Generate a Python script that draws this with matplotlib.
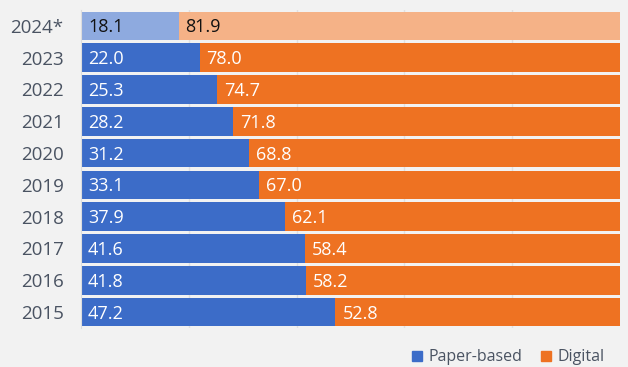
import matplotlib.pyplot as plt
import numpy as np
from matplotlib.patches import Patch

years = ["2024*", "2023", "2022", "2021", "2020", "2019", "2018", "2017", "2016", "2015"]
paper = [18.1, 22.0, 25.3, 28.2, 31.2, 33.1, 37.9, 41.6, 41.8, 47.2]
digital = [81.9, 78.0, 74.7, 71.8, 68.8, 67.0, 62.1, 58.4, 58.2, 52.8]

plt.rcParams["font.family"] = ["Open Sans", "DejaVu Sans"]

blue, orange = "#3c6cc8", "#ee7222"
blue_light, orange_light = "#8eaadf", "#f5b287"
bg = "#f2f2f2"

fig = plt.figure(figsize=(6.28, 3.67), dpi=100, facecolor=bg)
ax = fig.add_axes([81 / 628, 1 - 328 / 367, 539 / 628, 318 / 367], facecolor=bg)

y = np.arange(len(years))
h = 0.9
for i, yr in enumerate(years):
    est = yr.endswith("*")
    c1 = blue_light if est else blue
    c2 = orange_light if est else orange
    tc = "#111111" if est else "white"
    ax.barh(i, paper[i], height=h, color=c1, zorder=2)
    ax.barh(i, digital[i], left=paper[i], height=h, color=c2, zorder=2)
    ax.text(1.3, i + 0.05, f"{paper[i]:.1f}", color=tc, va="center", ha="left", fontsize=13, zorder=3)
    ax.text(paper[i] + 1.3, i + 0.05, f"{digital[i]:.1f}", color=tc, va="center", ha="left", fontsize=13, zorder=3)

ax.set_xlim(0, 100)
ax.set_ylim(len(years) - 0.5, -0.5)
ax.set_yticks(y)
ax.set_yticklabels(years, fontsize=13.5, color="#4a5362")
ax.set_xticks([20, 40, 60, 80])
ax.tick_params(axis="x", length=0, labelbottom=False)
ax.tick_params(axis="y", length=0, pad=12.5)
ax.grid(axis="x", color="#e0e0e0", linewidth=1, zorder=0)
for s in ["top", "right", "bottom"]:
    ax.spines[s].set_visible(False)
ax.spines["left"].set_color("#dddddd")

handles = [Patch(color=blue, label="Paper-based"), Patch(color=orange, label="Digital")]
fig.legend(handles=handles, loc="lower right", bbox_to_anchor=(0.985, -0.035), ncol=2, frameon=False,
           fontsize=11.5, handlelength=0.6, handleheight=0.6, handletextpad=0.4, columnspacing=1.2,
           labelcolor="#4a5362")

fig.savefig("out.png", dpi=100, facecolor=bg)
